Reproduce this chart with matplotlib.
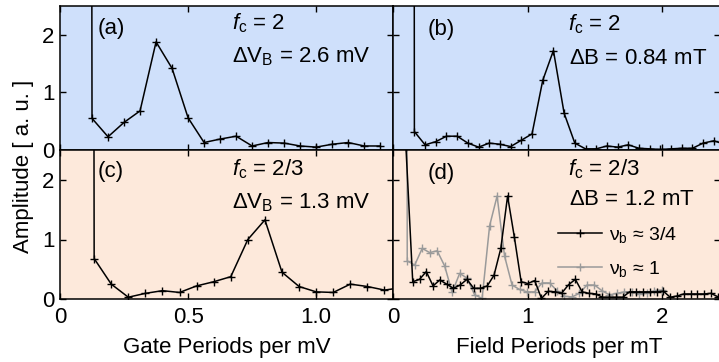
import numpy as np
import matplotlib
matplotlib.use("Agg")
import matplotlib.pyplot as plt

plt.rcParams['font.family'] = ['Liberation Sans', 'DejaVu Sans']
plt.rcParams['mathtext.fontset'] = 'custom'
plt.rcParams['mathtext.rm'] = 'Liberation Sans'
plt.rcParams['mathtext.it'] = 'Liberation Sans:italic'
FS = 16
plt.rcParams['font.size'] = FS

# (a) gate periods, f_c = 2  (first point is the off-scale DC bin)
a_step = 1 / 16
a_amp = [200, 0.55, 0.23, 0.48, 0.68, 1.88, 1.42, 0.56, 0.13, 0.19, 0.24,
         0.07, 0.13, 0.12, 0.07, 0.05, 0.10, 0.13, 0.07, 0.07]

# (b) field periods, f_c = 2
b_step = 0.0794
b_amp = [200, 0.32, 0.09, 0.145, 0.24, 0.24, 0.12, 0.05, 0.12, 0.10, 0.06,
         0.17, 0.28, 1.21, 1.73, 0.64, 0.12, 0.02, 0.02, 0.07, 0.05, 0.09,
         0.03, 0.02, 0.01, 0.02, 0.03, 0.03, 0.12, 0.16, 0.10]

# (c) gate periods, f_c = 2/3
c_step = 1 / 15
c_amp = [200, 0.68, 0.25, 0.03, 0.095, 0.14, 0.11, 0.22, 0.29, 0.375, 1.0,
         1.33, 0.45, 0.21, 0.12, 0.11, 0.25, 0.21, 0.15, 0.19]

# (d) field periods, f_c = 2/3, two bulk fillings
d34_start, d34_step = 0.0962, 0.0503
d34_amp = [2.55, 0.29, 0.33, 0.46, 0.22, 0.32, 0.25, 0.18, 0.235, 0.33, 0.18,
           0.18, 0.22, 0.40, 0.85, 1.73, 1.04, 0.29, 0.26, 0.31, 0.01, 0.13,
           0.12, 0.10, 0.24, 0.33, 0.12, 0.095, 0.085, 0.03, 0.03, 0.03, 0.03,
           0.12, 0.12, 0.12, 0.12, 0.12, 0.13, 0.03, 0.05, 0.085, 0.085,
           0.085, 0.085, 0.095, 0.04]
d1_start, d1_step = 0.050, 0.0556
d1_amp = [200, 0.64, 0.57, 0.85, 0.78, 0.81, 0.555, 0.11, 0.43, 0.35, 0.07,
          0.01, 1.23, 1.73, 0.72, 0.235, 0.16, 0.12, 0.12, 0.27, 0.27, 0.14,
          0.045, 0.035, 0.095, 0.235, 0.235, 0.14, 0.07, 0.095, 0.12, 0.12,
          0.085, 0.095, 0.14, 0.15]

blue = '#cfe0fb'
peach = '#fde9db'
grey = '#9a9a9a'

W, H = 719, 362
fig = plt.figure(figsize=(W / 100, H / 100), dpi=100)

def box(x0, x1, y0, y1):
    return [x0 / W, 1 - y1 / H, (x1 - x0) / W, (y1 - y0) / H]

ax_a = fig.add_axes(box(60, 393, 6.25, 150))
ax_b = fig.add_axes(box(393, 719.5, 6.25, 150))
ax_c = fig.add_axes(box(60, 393, 150.25, 299))
ax_d = fig.add_axes(box(393, 719.5, 150.25, 299))

kw = dict(color='k', lw=1.1, marker='+', ms=6, mew=1.0)

ax_a.plot(a_step * np.arange(1, len(a_amp) + 1), a_amp, **kw)
ax_b.plot(b_step * np.arange(1, len(b_amp) + 1), b_amp, **kw)
ax_c.plot(c_step * np.arange(1, len(c_amp) + 1), c_amp, **kw)
g, = ax_d.plot(d1_start + d1_step * np.arange(len(d1_amp)), d1_amp,
               **dict(kw, color=grey))
k, = ax_d.plot(d34_start + d34_step * np.arange(len(d34_amp)), d34_amp, **kw)

for ax, bg in [(ax_a, blue), (ax_b, blue), (ax_c, peach), (ax_d, peach)]:
    ax.set_facecolor(bg)
    ax.set_ylim(0, 2.5)
    ax.set_yticks([0, 1, 2])
    ax.tick_params(direction='in', length=4.5, width=1.0, top=True, right=True,
                   labelsize=FS, pad=4)
    for s in ax.spines.values():
        s.set_linewidth(1.1)

for ax in (ax_a, ax_c):
    ax.set_xlim(0, 1.30)
    ax.set_xticks([0, 0.5, 1.0])
for ax in (ax_b, ax_d):
    ax.set_xlim(0, 2.424)
    ax.set_xticks([0, 1, 2])
    ax.tick_params(labelleft=False)
for ax in (ax_a, ax_b):
    ax.tick_params(labelbottom=False)

ax_c.set_xticklabels(['0', '0.5', '1.0'])
ax_c.tick_params(axis='x', pad=6)
ax_d.tick_params(axis='x', pad=6)

# panel annotations
notes = [
    (ax_a, '(a)', 0.114, 0.81, r'$f_\mathrm{c}$ = 2', 0.517, 0.84,
     r'$\Delta\mathrm{V_B}$ = 2.6 mV', 0.517, 0.61),
    (ax_b, '(b)', 0.106, 0.80, r'$f_\mathrm{c}$ = 2', 0.537, 0.83,
     r'$\Delta$B = 0.84 mT', 0.54, 0.60),
    (ax_c, '(c)', 0.114, 0.82, r'$f_\mathrm{c}$ = 2/3', 0.517, 0.83,
     r'$\Delta\mathrm{V_B}$ = 1.3 mV', 0.517, 0.61),
    (ax_d, '(d)', 0.106, 0.81, r'$f_\mathrm{c}$ = 2/3', 0.537, 0.83,
     r'$\Delta$B = 1.2 mT', 0.54, 0.63),
]
for ax, lab, lx, ly, t1, x1, y1, t2, x2, y2 in notes:
    ax.text(lx, ly, lab, transform=ax.transAxes, fontsize=FS, va='baseline')
    ax.text(x1, y1, t1, transform=ax.transAxes, fontsize=FS, va='baseline')
    ax.text(x2, y2, t2, transform=ax.transAxes, fontsize=FS, va='baseline')

ax_d.legend([k, g], ['ν$_\\mathrm{b}$ ≈ 3/4', 'ν$_\\mathrm{b}$ ≈ 1'],
            loc='center left', bbox_to_anchor=(0.505, 0.315), frameon=False,
            borderpad=0, borderaxespad=0, handlelength=2.27, handletextpad=0.38,
            labelspacing=0.72, fontsize=14)

fig.text(0.032, 1 - 166 / H, 'Amplitude [ a. u. ]', rotation=90,
         ha='center', va='center', fontsize=FS)
fig.text((60 + 393) / 2 / W, 0.04, 'Gate Periods per mV', ha='center',
         va='center', fontsize=FS)
fig.text((393 + 719) / 2 / W + 0.005, 0.04, 'Field Periods per mT',
         ha='center', va='center', fontsize=FS)

fig.savefig('out.png', dpi=100)
